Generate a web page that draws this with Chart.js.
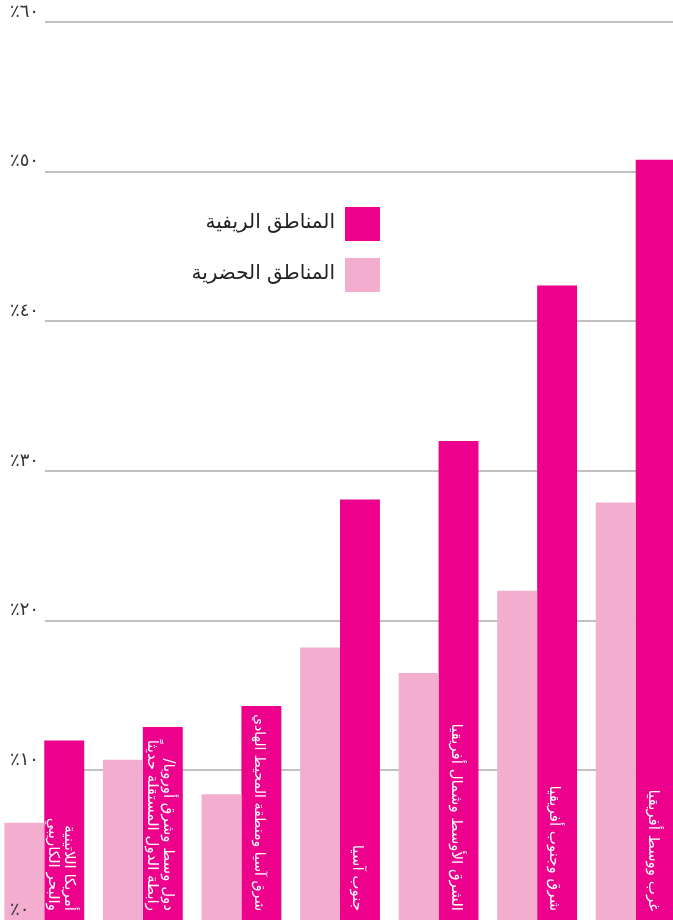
<!DOCTYPE html>
<html><head><meta charset="utf-8">
<script src="https://cdn.jsdelivr.net/npm/chart.js@4.4.0/dist/chart.umd.min.js"></script>
<style>
html,body{margin:0;padding:0;background:#fff;overflow:hidden}
#wrap{position:relative;width:673px;height:920px;overflow:hidden;background:#fff}
#c{position:absolute;left:-5px;top:0}
</style></head><body>
<div id="wrap"><canvas id="c" width="690" height="920"></canvas></div>
<script>
const categories = [
  ['أمريكا اللاتينية', 'والبحر الكاريبي'],
  ['دول وسط وشرق أوروبا/', 'رابطة الدول المستقلة حديثاً'],
  ['شرق آسيا ومنطقة المحيط الهادي'],
  ['جنوب آسيا'],
  ['الشرق الأوسط وشمال أفريقيا'],
  ['شرق وجنوب أفريقيا'],
  ['غرب ووسط أفريقيا']
];
const urbanValues = [6.5, 10.7, 8.4, 18.2, 16.5, 22.0, 27.9];
const ruralValues = [12.0, 12.9, 14.3, 28.1, 32.0, 42.4, 50.8];
const urbanName = 'المناطق الحضرية';
const ruralName = 'المناطق الريفية';
const tickLabels = ['٪٠', '٪١٠', '٪٢٠', '٪٣٠', '٪٤٠', '٪٥٠', '٪٦٠'];

const RURAL = '#ec008c';
const URBAN = '#f3aecf';
const AR_FONT = '"DejaVu Sans", "Noto Sans", sans-serif';

const gridPlugin = {
  id: 'gridLines',
  beforeDatasetsDraw(chart) {
    const y = chart.scales.y, ctx = chart.ctx;
    ctx.save();
    ctx.strokeStyle = '#adadad';
    ctx.lineWidth = 1.6;
    y.ticks.forEach(t => {
      if (t.value === 0) return;
      const py = Math.round(y.getPixelForValue(t.value));
      ctx.beginPath();
      ctx.moveTo(50, py);
      ctx.lineTo(chart.width, py);
      ctx.stroke();
    });
    ctx.restore();
  }
};

const barLabelPlugin = {
  id: 'barLabels',
  afterDatasetsDraw(chart) {
    const ctx = chart.ctx;
    const meta = chart.getDatasetMeta(1);
    meta.data.forEach((bar, i) => {
      const lines = categories[i];
      const avail = (bar.base - bar.y) - 16;
      let size = 15;
      ctx.font = size + 'px ' + AR_FONT;
      const widest = Math.max(...lines.map(l => ctx.measureText(l).width));
      if (widest > avail) size = Math.floor(size * avail / widest * 10) / 10;
      ctx.save();
      ctx.translate(bar.x - 3, bar.base - 9);
      ctx.rotate(Math.PI / 2);
      ctx.fillStyle = '#ffffff';
      ctx.font = size + 'px ' + AR_FONT;
      ctx.direction = 'rtl';
      ctx.textAlign = 'right';
      ctx.textBaseline = 'middle';
      const n = lines.length, lh = 16;
      lines.forEach((l, j) => {
        ctx.fillText(l, 0, (j - (n - 1) / 2) * lh);
      });
      ctx.restore();
    });
  }
};

const legendPlugin = {
  id: 'customLegend',
  afterDraw(chart) {
    const ctx = chart.ctx;
    const items = [
      { label: chart.data.datasets[1].label, color: chart.data.datasets[1].backgroundColor, top: 207 },
      { label: chart.data.datasets[0].label, color: chart.data.datasets[0].backgroundColor, top: 258 }
    ];
    ctx.save();
    items.forEach(it => {
      ctx.fillStyle = it.color;
      ctx.fillRect(350, it.top, 35, 34);
      ctx.fillStyle = '#231f20';
      ctx.font = '20px ' + AR_FONT;
      ctx.direction = 'rtl';
      ctx.textAlign = 'right';
      ctx.textBaseline = 'middle';
      ctx.fillText(it.label, 340, it.top + 16);
    });
    ctx.restore();
  }
};

new Chart(document.getElementById('c'), {
  type: 'bar',
  data: {
    labels: categories,
    datasets: [
      { label: urbanName, data: urbanValues, backgroundColor: URBAN, borderWidth: 0,
        categoryPercentage: 0.81, barPercentage: 1.0 },
      { label: ruralName, data: ruralValues, backgroundColor: RURAL, borderWidth: 0,
        categoryPercentage: 0.81, barPercentage: 1.0 }
    ]
  },
  options: {
    responsive: false,
    animation: false,
    layout: { padding: { top: 22, bottom: 0, left: 0, right: 0 } },
    plugins: { legend: { display: false }, tooltip: { enabled: false } },
    scales: {
      x: { display: false, offset: true, grid: { display: false } },
      y: {
        min: 0, max: 60,
        grid: { display: false },
        border: { display: false },
        ticks: {
          z: 1,
          stepSize: 10,
          mirror: true,
          padding: 15,
          labelOffset: -10,
          color: '#333333',
          font: { family: AR_FONT, size: 18 },
          callback: (v) => tickLabels[Math.round(v / 10)]
        },
        afterFit: (s) => { s.width = 0; s.paddingTop = 0; s.paddingBottom = 0; }
      }
    }
  },
  plugins: [gridPlugin, barLabelPlugin, legendPlugin]
});
</script>
</body></html>
